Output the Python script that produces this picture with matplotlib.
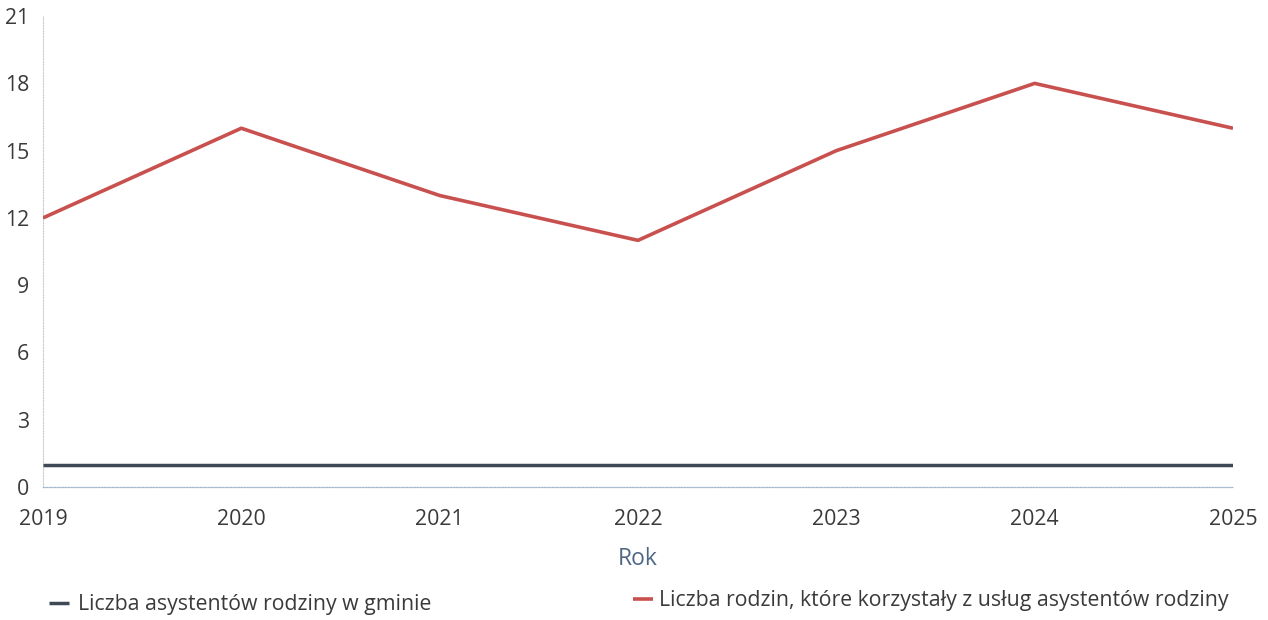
import matplotlib
matplotlib.use("Agg")
import matplotlib.pyplot as plt

years = [2019, 2020, 2021, 2022, 2023, 2024, 2025]
assistants = [1, 1, 1, 1, 1, 1, 1]
families = [12, 16, 13, 11, 15, 18, 16]
y_ticks = [0, 3, 6, 9, 12, 15, 18, 21]

label_assistants = "Liczba asystentów rodziny w gminie"
label_families = "Liczba rodzin, które korzystały z usług asystentów rodziny"

plt.rcParams["font.family"] = ["Open Sans", "DejaVu Sans"]

fig = plt.figure(figsize=(12.68, 6.2), dpi=100)
ax = fig.add_axes([0.0339, 0.2145, 0.9385, 0.7595])

ax.plot(years, assistants, color="#3f4955", linewidth=2.5, solid_capstyle="butt",
        label=label_assistants, zorder=3)
ax.plot(years, families, color="#c8504e", linewidth=2.6, solid_capstyle="butt",
        label=label_families, zorder=3)

ax.set_xlim(years[0], years[-1])
ax.set_ylim(0, 21)
ax.set_xticks(years)
ax.set_yticks(y_ticks)
ax.tick_params(axis="both", length=0, labelsize=15.3, colors="#3a3a3a")
ax.tick_params(axis="x", pad=16)
ax.tick_params(axis="y", pad=10)

for side in ("top", "right"):
    ax.spines[side].set_visible(False)
ax.spines["left"].set_linestyle((0, (1, 1.5)))
ax.spines["left"].set_color("#cccccc")
ax.spines["left"].set_linewidth(0.8)
ax.spines["bottom"].set_linestyle((0, (1, 1.2)))
ax.spines["bottom"].set_color("#a4b6cb")
ax.spines["bottom"].set_linewidth(0.9)

ax.set_xlabel("Rok", fontsize=16.5, color="#4f6786", labelpad=12)

leg_handles, leg_labels = ax.get_legend_handles_labels()
leg1 = fig.legend([leg_handles[0]], [leg_labels[0]], loc="center left",
                  bbox_to_anchor=(0.0237, 0.025), frameon=False, fontsize=15.3,
                  handlelength=0.94, handletextpad=0.4, labelcolor="#3a3a3a")
leg2 = fig.legend([leg_handles[1]], [leg_labels[1]], loc="center right",
                  bbox_to_anchor=(0.984, 0.031), frameon=False, fontsize=15.3,
                  handlelength=0.94, handletextpad=0.3, labelcolor="#3a3a3a")

fig.savefig("out.png", dpi=100, facecolor="white")
